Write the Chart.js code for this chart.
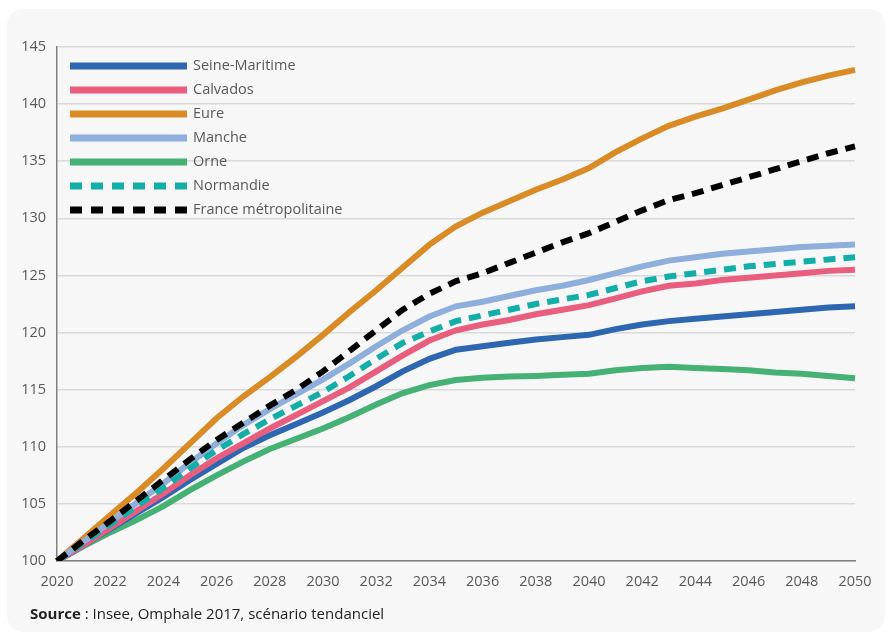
<!DOCTYPE html>
<html>
<head>
<meta charset="utf-8">
<script src="https://cdn.jsdelivr.net/npm/chart.js@4.4.1/dist/chart.umd.min.js"></script>
<style>
  body { margin: 0; background: #ffffff; font-family: "Open Sans", sans-serif; }
  #card { position: absolute; left: 7px; top: 9px; width: 878px; height: 623px; background: #f7f7f7; border-radius: 16px; }
  #wrap { position: absolute; left: 0; top: 0; width: 890px; height: 634px; }
  #source { position: absolute; left: 30px; top: 603px; font-size: 15px; color: #222; }
</style>
</head>
<body>
<div id="card"></div>
<div id="wrap"><canvas id="popChart" width="890" height="634"></canvas></div>
<div id="source"><b>Source</b> : Insee, Omphale 2017, scénario tendanciel</div>
<script>
// Population index, base 100 in 2020

const years = [];
for (let y = 2020; y <= 2050; y++) years.push(String(y));

const seineMaritime = [100, 101.4, 102.8, 104.2, 105.6, 107.1, 108.5, 109.9, 111.0, 112.0, 113.0, 114.1, 115.3, 116.6, 117.7, 118.5, 118.8, 119.1, 119.4, 119.6, 119.8, 120.3, 120.7, 121.0, 121.2, 121.4, 121.6, 121.8, 122.0, 122.2, 122.3];
const calvados = [100, 101.4, 102.9, 104.4, 105.9, 107.5, 109.0, 110.3, 111.6, 112.8, 114.0, 115.2, 116.6, 118.0, 119.3, 120.2, 120.7, 121.1, 121.6, 122.0, 122.4, 123.0, 123.6, 124.1, 124.3, 124.6, 124.8, 125.0, 125.2, 125.4, 125.5];
const eure = [100, 102.0, 104.0, 106.0, 108.1, 110.3, 112.5, 114.4, 116.1, 117.9, 119.8, 121.8, 123.7, 125.7, 127.7, 129.3, 130.5, 131.5, 132.5, 133.4, 134.4, 135.8, 137.0, 138.1, 138.9, 139.6, 140.4, 141.2, 141.9, 142.5, 143.0];
const manche = [100, 101.7, 103.4, 105.1, 106.8, 108.6, 110.3, 111.9, 113.3, 114.6, 115.9, 117.3, 118.8, 120.2, 121.4, 122.3, 122.7, 123.2, 123.7, 124.1, 124.6, 125.2, 125.8, 126.3, 126.6, 126.9, 127.1, 127.3, 127.5, 127.6, 127.7];
const orne = [100, 101.3, 102.5, 103.6, 104.8, 106.2, 107.5, 108.7, 109.8, 110.7, 111.6, 112.6, 113.7, 114.7, 115.4, 115.85, 116.05, 116.15, 116.2, 116.3, 116.4, 116.7, 116.9, 117.0, 116.9, 116.8, 116.7, 116.5, 116.4, 116.2, 116.0];
const normandie = [100, 101.6, 103.2, 104.8, 106.4, 108.1, 109.7, 111.1, 112.4, 113.6, 114.8, 116.2, 117.7, 119.1, 120.1, 121.0, 121.5, 122.0, 122.5, 122.9, 123.3, 123.9, 124.5, 124.9, 125.2, 125.5, 125.8, 126.0, 126.2, 126.4, 126.6];
const france = [100, 101.8, 103.5, 105.3, 107.1, 108.9, 110.6, 112.1, 113.6, 115.0, 116.6, 118.4, 120.2, 122.0, 123.4, 124.5, 125.2, 126.1, 127.0, 127.9, 128.7, 129.7, 130.7, 131.6, 132.2, 132.9, 133.6, 134.3, 135.0, 135.7, 136.3];

const yMin = 100, yMax = 145, yStep = 5;

// legend drawn inside the plot, one row per series
const insideLegend = {
  id: 'insideLegend',
  afterDraw(chart) {
    const ctx = chart.ctx;
    ctx.save();
    ctx.font = '14.5px "Open Sans"';
    ctx.textBaseline = 'middle';
    chart.data.datasets.forEach((ds, i) => {
      const y = 66 + i * 24;
      ctx.strokeStyle = ds.borderColor;
      ctx.lineWidth = 7;
      ctx.lineCap = 'butt';
      ctx.setLineDash(ds.borderDash.length ? [12, 9] : []);
      ctx.beginPath();
      ctx.moveTo(70, y);
      ctx.lineTo(187, y);
      ctx.stroke();
      ctx.fillStyle = '#595959';
      ctx.fillText(ds.label, 193, y);
    });
    ctx.restore();
  }
};

function line(label, data, color, order, dash) {
  return {
    label: label,
    data: data,
    borderColor: color,
    backgroundColor: color,
    borderWidth: 6,
    borderDash: dash || [],
    pointRadius: 0,
    tension: 0,
    order: order
  };
}

const ctx = document.getElementById('popChart');

new Chart(ctx, {
  type: 'line',
  data: {
    labels: years,
    datasets: [
      line('Seine-Maritime', seineMaritime, '#2e67b1', 4),
      line('Calvados', calvados, '#e95d7e', 3),
      line('Eure', eure, '#d98b26', 6),
      line('Manche', manche, '#8eaedc', 2),
      line('Orne', orne, '#45b174', 5),
      line('Normandie', normandie, '#14aea8', 1, [12, 8]),
      line('France métropolitaine', france, '#000000', 0, [12, 8])
    ]
  },
  options: {
    responsive: false,
    animation: false,
    layout: { padding: { top: 47, right: 35, left: 0, bottom: 0 } },
    plugins: {
      legend: { display: false },
      tooltip: { enabled: false }
    },
    scales: {
      x: {
        grid: { display: false },
        border: { display: true, color: '#808080', width: 1.5 },
        ticks: {
          autoSkip: false,
          maxRotation: 0,
          padding: 4,
          color: '#595959',
          font: { family: 'Open Sans', size: 14.5 },
          callback: function (v, i) { return i % 2 === 0 ? this.getLabelForValue(v) : ''; }
        },
        afterFit: s => { s.height = 73; }
      },
      y: {
        min: yMin,
        max: yMax,
        grid: { color: '#d9d9d9', lineWidth: 1.5, drawTicks: false },
        border: { display: true, color: '#808080', width: 1.5 },
        ticks: {
          stepSize: yStep,
          padding: 11,
          color: '#595959',
          font: { family: 'Open Sans', size: 14.5 }
        },
        afterFit: s => { s.width = 57; }
      }
    }
  },
  plugins: [insideLegend]
});
</script>
</body>
</html>
